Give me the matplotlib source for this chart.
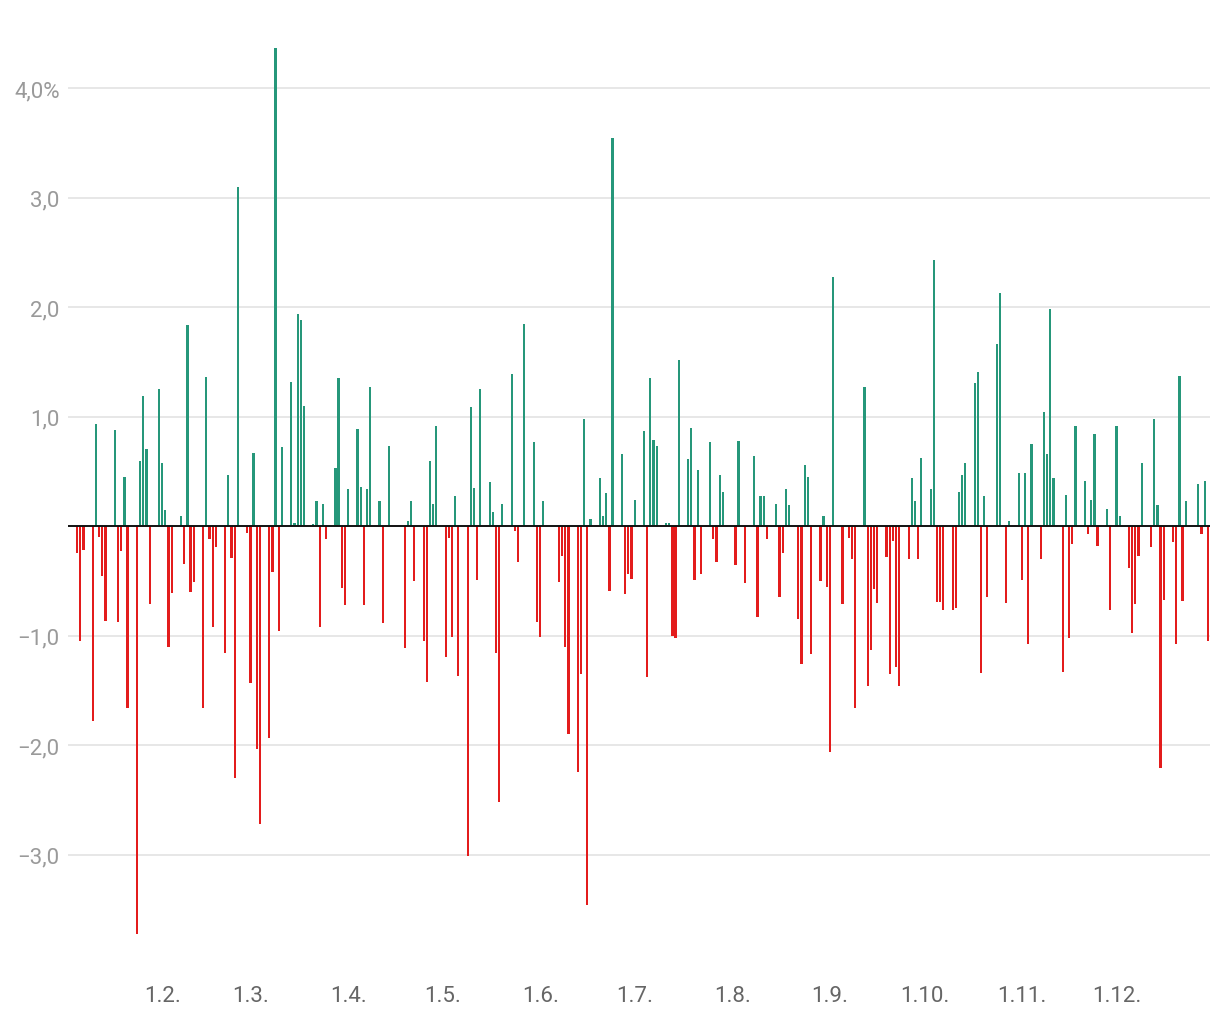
# Daily returns 2022 - bar chart, green up / red down

import pandas as pd
import matplotlib.pyplot as plt
from matplotlib.ticker import FixedLocator, FuncFormatter

plt.rcParams['font.family'] = ['Roboto', 'DejaVu Sans']

# trading calendar (exchange closed on these days)
start = "2022-01-05"
end = "2022-12-30"
closed = ["2022-04-15", "2022-04-18", "2022-05-26", "2022-06-06",
          "2022-08-01", "2022-12-26"]

# daily change in %, one list per month
jan = [-0.24, -1.05, -0.22, -1.78, 0.93, -0.10, -0.45, -0.86, 0.88, -0.87,
       -0.23, 0.45, -1.66, -3.72, 0.60, 1.19, 0.71, -0.71, 1.25]
feb = [0.58, 0.15, -1.10, -0.61, 0.09, -0.34, 1.84, -0.60, -0.51, -1.66,
       1.36, -0.12, -0.92, -0.19, -1.16, 0.47, -0.29, -2.30, 3.10, -0.06]
mar = [-1.43, 0.67, -2.03, -2.72, -1.93, -0.42, 4.37, -0.96, 0.72, 1.32,
       0.03, 1.94, 1.88, 1.10, 0.02, 0.23, -0.92, 0.20, -0.12, 0.53,
       1.35, -0.56, -0.72]
apr = [0.34, 0.89, 0.36, -0.72, 0.34, 1.27, 0.23, -0.88, 0.0, 0.73,
       -1.11, 0.05, 0.23, -0.50, -1.05, -1.42, 0.60, 0.20, 0.92]
may = [-1.19, -0.11, -1.01, 0.28, -1.37, -3.01, 1.09, 0.35, -0.49, 1.25,
       0.40, 0.13, -1.16, -2.52, 0.20, 1.39, -0.04, -0.33, 1.85, 0.77, -0.87]
jun = [-1.01, 0.23, 0.0, -0.51, -0.27, -1.10, -1.90, -2.24, -1.35, 0.98,
       -3.46, 0.07, 0.44, 0.09, 0.30, -0.59, 3.54, 0.66, -0.62, -0.44, -0.48]
jul = [0.24, 0.87, -1.38, 1.35, 0.79, 0.73, 0.03, 0.03, -1.00, -1.02,
       1.52, 0.61, 0.90, -0.49, 0.51, -0.44, 0.77, -0.12, -0.33, 0.47, 0.31]
aug = [-0.35, 0.78, 0.0, -0.52, 0.64, -0.83, 0.28, 0.28, -0.12, 0.20,
       -0.65, -0.24, 0.34, 0.19, -0.85, -1.26, 0.56, 0.45, -1.17, -0.50,
       0.09, -0.55]
sep = [-2.06, 2.28, -0.71, 0.0, -0.11, -0.30, -1.66, 1.27, -1.46, -1.13,
       -0.57, -0.70, -0.28, -1.35, -0.13, -1.28, -1.46, -0.30, 0.44, 0.23,
       -0.30, 0.62]
oct_ = [0.34, 2.43, -0.69, -0.69, -0.76, -0.76, -0.75, 0.31, 0.47, 0.58,
        1.31, 1.41, -1.34, 0.28, -0.65, 1.66, 2.13, 0.0, -0.70, 0.05, 0.49]
nov = [-0.49, 0.49, -1.07, 0.75, -0.30, 1.04, 0.66, 1.98, 0.44, -1.33,
       0.29, -1.02, -0.16, 0.92, 0.41, -0.07, 0.24, 0.84, -0.18, 0.16,
       -0.76, 0.0]
dec = [0.92, 0.09, -0.38, -0.97, -0.71, -0.27, 0.58, -0.19, 0.98, 0.19,
       -2.21, -0.67, -0.14, -1.07, 1.37, -0.68, 0.23, 0.39, -0.07, 0.41, -1.05]

month_labels = ["1.2.", "1.3.", "1.4.", "1.5.", "1.6.", "1.7.",
                "1.8.", "1.9.", "1.10.", "1.11.", "1.12."]
y_ticks = [-3, -2, -1, 1, 2, 3, 4]

values = jan + feb + mar + apr + may + jun + jul + aug + sep + oct_ + nov + dec
dates = pd.bdate_range(start, end, freq="C", holidays=closed)
df = pd.DataFrame({"date": dates, "change": values})

green = "#26977a"
red = "#e31c1c"
colors = [green if v >= 0 else red for v in df["change"]]

fig = plt.figure(figsize=(12.2, 10.2), dpi=100)
ax = fig.add_axes([68 / 1220, 60 / 1020, 1142 / 1220, 918 / 1020])

ax.bar(df["date"], df["change"], width=0.7, color=colors, zorder=2)
ax.axhline(0, color="#111111", lw=1.4, zorder=3)

jan1 = pd.Timestamp("2022-01-01")
ax.set_xlim(jan1 + pd.Timedelta(days=1.08), jan1 + pd.Timedelta(days=363.7))
ax.set_ylim(-3.95, 4.43)

# y axis
ax.yaxis.set_major_locator(FixedLocator(y_ticks))
ax.yaxis.set_major_formatter(FuncFormatter(
    lambda v, p: (f"{v:.1f}".replace(".", ",").replace("-", "\u2212")
                  + ("%" if v == 4 else ""))))
ax.grid(axis="y", color="#e3e3e3", lw=1.2, zorder=0)
ax.tick_params(axis="y", length=0, pad=6, labelsize=16, labelcolor="#9a9a9a")

# x axis: month starts
ticks = pd.date_range("2022-02-01", "2022-12-01", freq="MS")
ax.set_xticks(ticks)
ax.set_xticklabels(month_labels)
ax.tick_params(axis="x", length=0, pad=19, labelsize=16, labelcolor="#666666")

for s in ax.spines.values():
    s.set_visible(False)

fig.savefig("out.png", dpi=100, facecolor="white")
